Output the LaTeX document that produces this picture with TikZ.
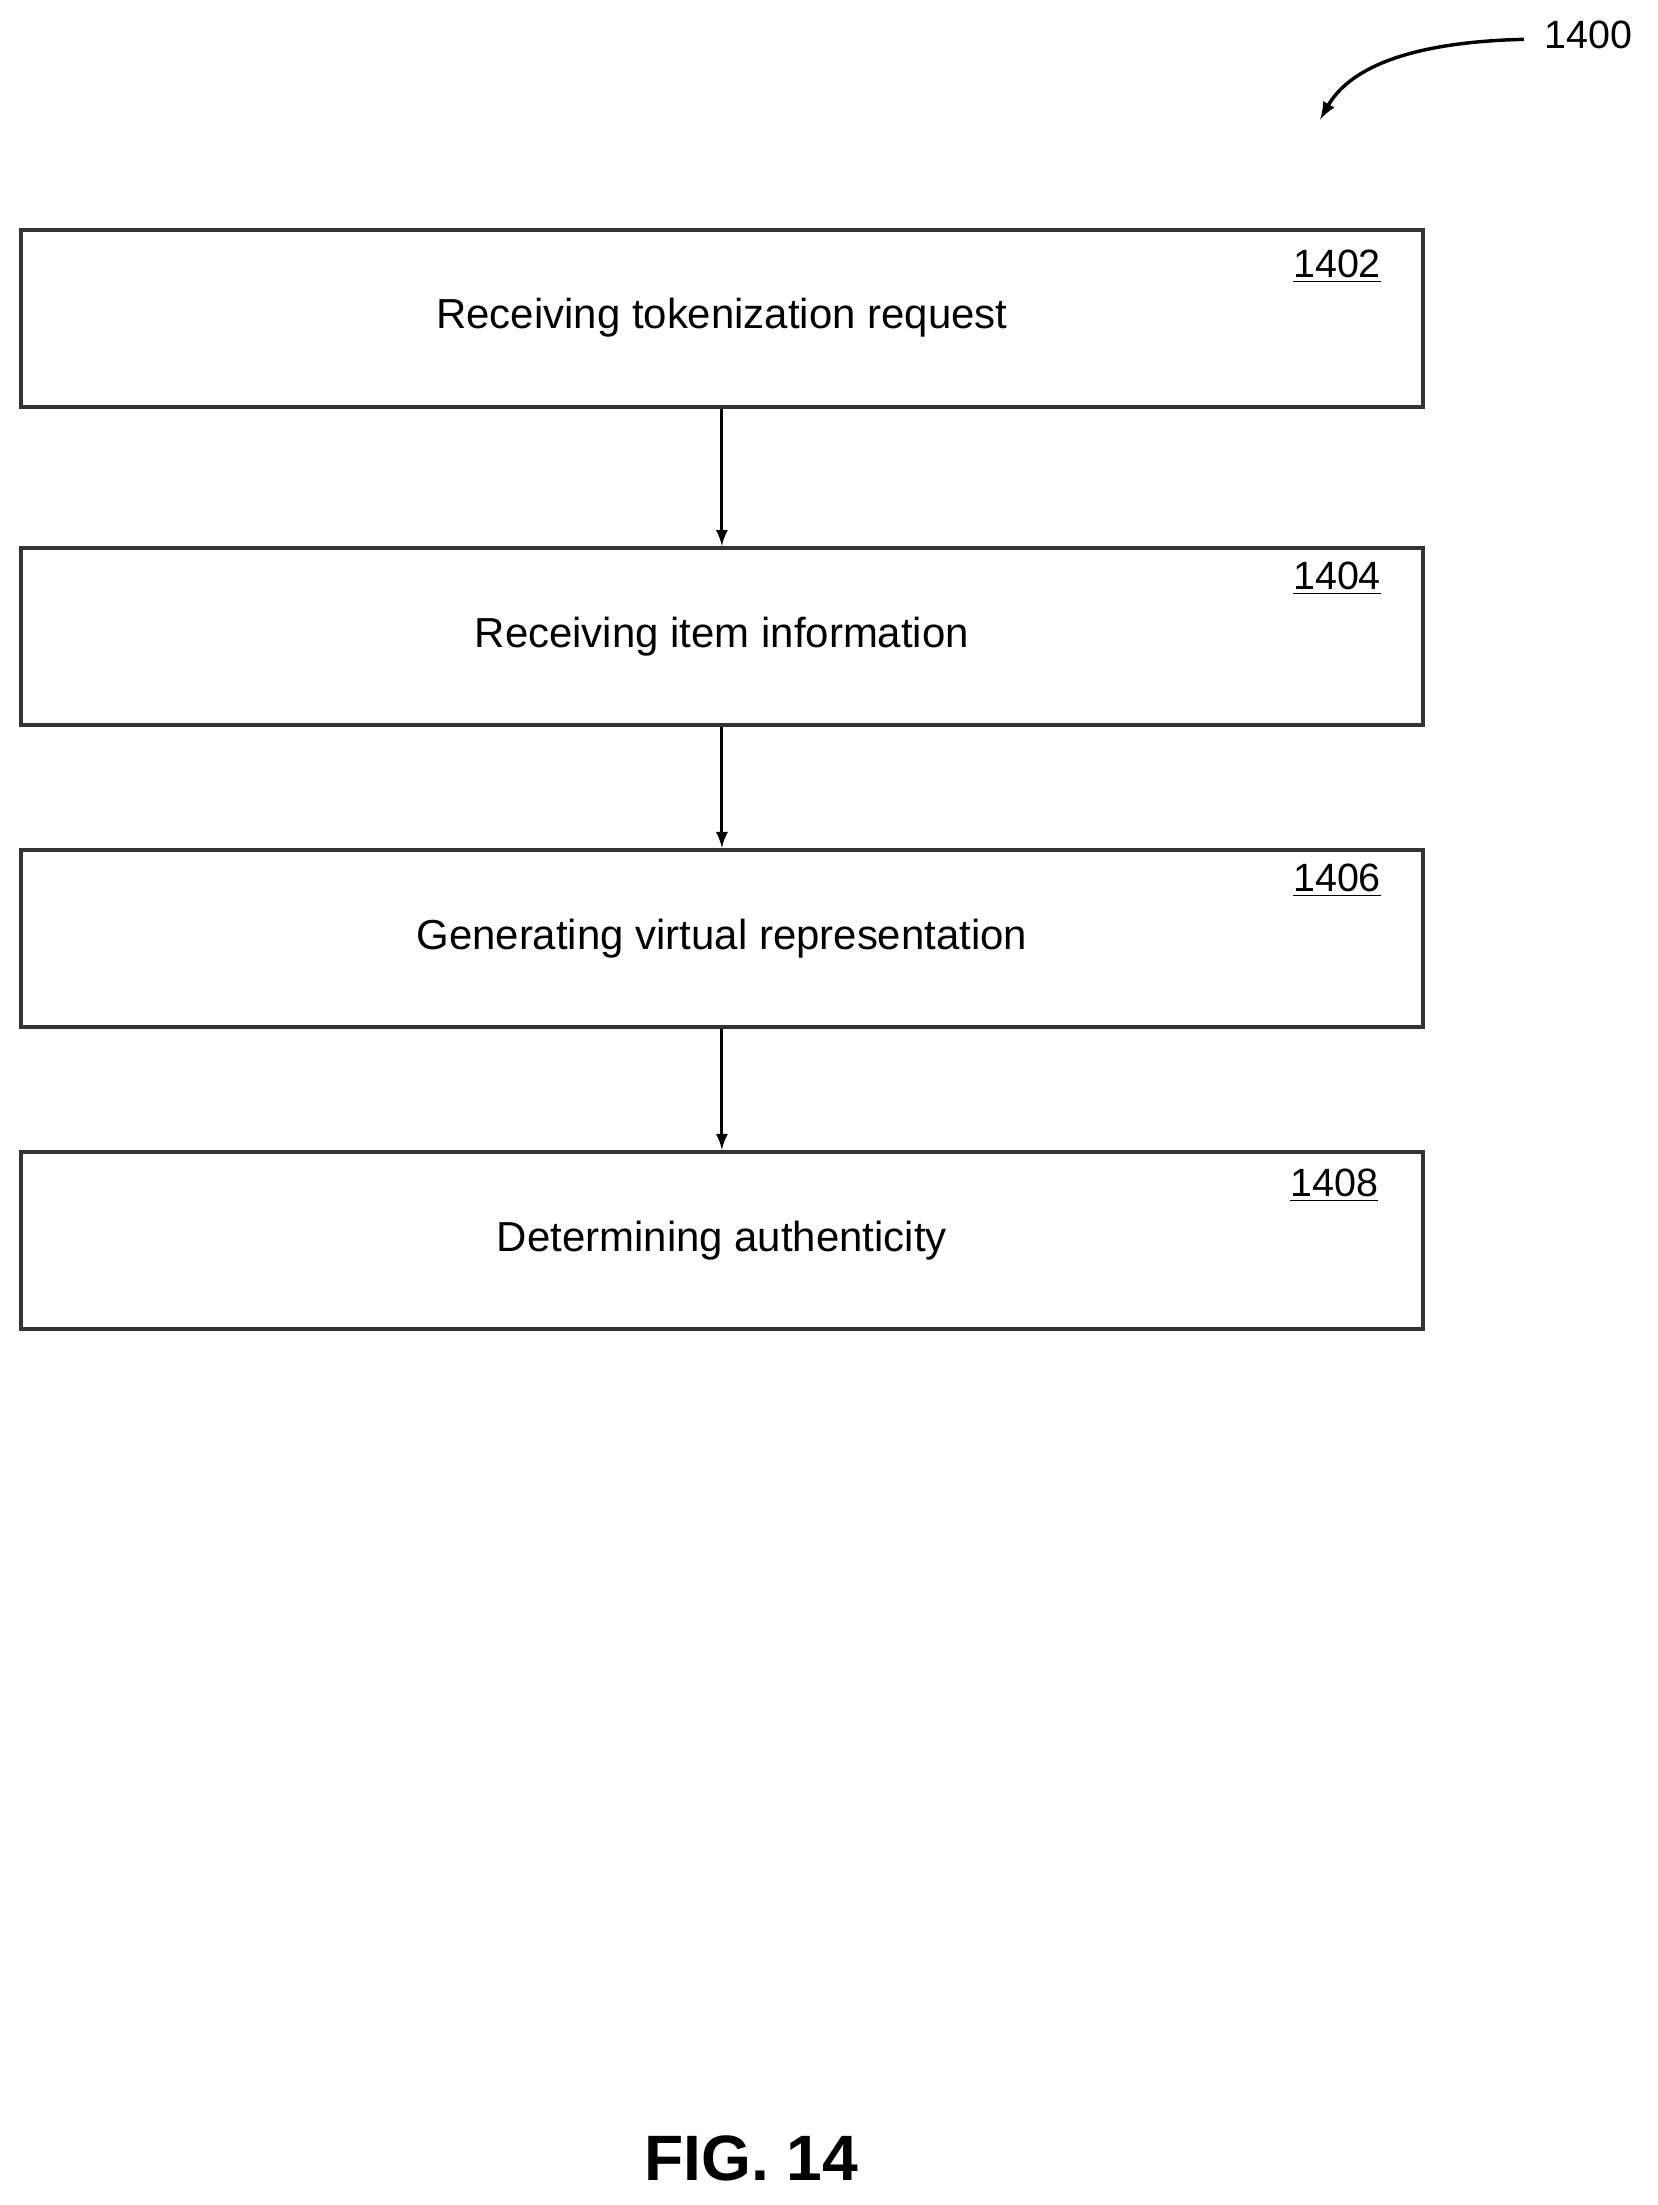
\documentclass[tikz,border=0pt]{standalone}
\usepackage{fontspec}
\setmainfont{Liberation Sans}
\usetikzlibrary{positioning}

\tikzset{stage/.style={draw=black!80, line width=1.6pt, minimum width=19.96cm, minimum height=2.52cm, inner sep=0pt, font=\fontsize{17}{20}\selectfont},
  num/.style={font=\fontsize{16}{18}\selectfont, inner sep=1pt},
  flow/.style={->, line width=1.2pt, >=latex}}

\begin{document}
\begin{tikzpicture}[x=0.02cm, y=-0.02cm]
\useasboundingbox (0,0) rectangle (1180,1570);

% steps
\node [stage] (s1) at (514,226.5) {Receiving tokenization request};
\node [stage] (s2) at (514,453) {Receiving item information};
\node [stage] (s3) at (514,668) {Generating virtual representation};
\node [stage] (s4) at (514,883) {Determining authenticity};

% reference numbers
\node [num] (n1) at (952,190) {\underline{1402}};
\node [num] (n2) at (952,412) {\underline{1404}};
\node [num] (n3) at (952,627) {\underline{1406}};
\node [num] (n4) at (950,844) {\underline{1408}};

% arrows between steps
\draw [flow] (s1) -- (s2);
\draw [flow] (s2) -- (s3);
\draw [flow] (s3) -- (s4);

% figure number
\node [num] (fig) at (1131,25) {1400};
\coordinate (tip) at (940,85);
\draw [->, line width=1.4pt, >=latex] (1085,28) .. controls (1000,30) and (960,50) .. (tip);

\node [font=\fontsize{26}{30}\selectfont\bfseries] (title) at (535,1537) {FIG. 14};
\end{tikzpicture}
\end{document}
